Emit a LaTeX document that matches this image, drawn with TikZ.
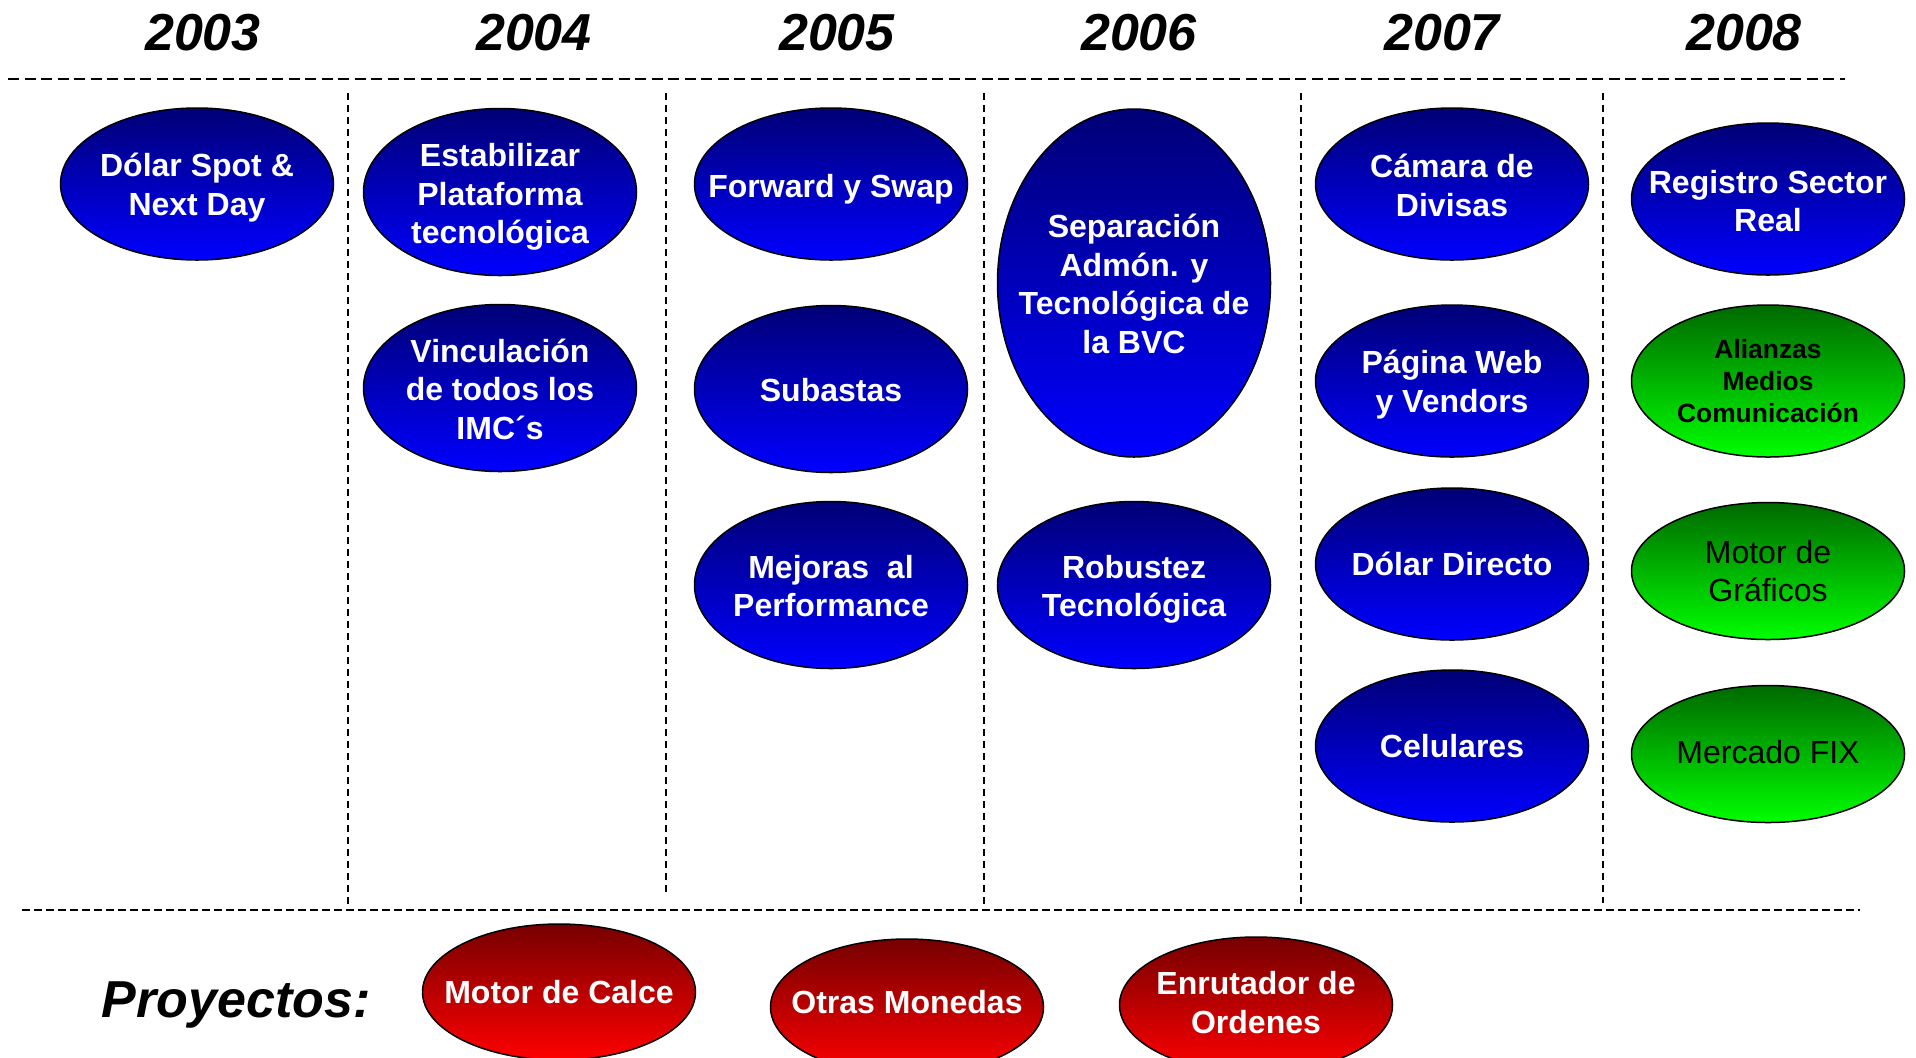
\documentclass[tikz,border=0pt]{standalone}
\usepackage{fontspec}
\setmainfont{Liberation Sans}
\usetikzlibrary{shapes.geometric}
\definecolor{azuloscuro}{RGB}{0,0,118}
\definecolor{azulclaro}{RGB}{0,0,255}
\definecolor{verdeoscuro}{RGB}{0,105,0}
\definecolor{verdeclaro}{RGB}{0,255,0}
\definecolor{rojooscuro}{RGB}{118,0,0}
\definecolor{rojoclaro}{RGB}{255,0,0}
\tikzset{
  anio/.style={anchor=base, font=\bfseries\itshape\fontsize{26}{30}\selectfont},
  hito/.style={ellipse, draw=black, line width=0.75pt, inner sep=0pt,
    minimum width=136.5pt, minimum height=76pt,
    top color=azuloscuro, bottom color=azulclaro},
  hitoalto/.style={hito, minimum height=83.5pt},
  verde/.style={hito, top color=verdeoscuro, bottom color=verdeclaro},
  rojo/.style={hito, minimum height=68pt, top color=rojooscuro, bottom color=rojoclaro},
  blanco/.style={text=white, align=center, font=\bfseries\fontsize{16}{19.3}\selectfont},
  negro/.style={text=black, align=center, font=\fontsize{16}{19.3}\selectfont},
  negrito/.style={text=black, align=center, font=\bfseries\fontsize{13.2}{16}\selectfont},
  seph/.style={line width=1pt, dash pattern=on 5.5pt off 2.75pt},
  sepv/.style={line width=0.9pt, dash pattern=on 3.6pt off 2.4pt}
}
\begin{document}
\begin{tikzpicture}[x=0.5pt,y=-0.5pt]
\useasboundingbox (0,0) rectangle (1916,1057);
% years
\node[anio] (a2003) at (203,50) {2003};
\node[anio] (a2004) at (534,50) {2004};
\node[anio] (a2005) at (837,50) {2005};
\node[anio] (a2006) at (1139,50) {2006};
\node[anio] (a2007) at (1442,50) {2007};
\node[anio] (a2008) at (1744,50) {2008};
% dashed lines
\draw[seph] (8,79) -- (1845,79);
\draw[seph, dash pattern=on 4pt off 2pt] (22,910) -- (1860,910);
\foreach \x/\y in {348/910,666/895,984/910,1301/910,1603/903}
  \draw[sepv] (\x,93) -- (\x,\y);
% 2003
\node[hito, label={[blanco,yshift=-1.8pt]center:{Dólar Spot \&\\Next Day}}] (spot) at (197,184) {};
% 2004
\node[hitoalto, label={[blanco,yshift=-2.4pt]center:{Estabilizar\\Plataforma\\tecnológica}}] (plataforma) at (500,192) {};
\node[hitoalto, label={[blanco,yshift=-0.6pt]center:{Vinculación\\de todos los\\IMC´s}}] (imcs) at (500,388) {};
% 2005
\node[hito, label={[blanco,yshift=-2.4pt]center:{Forward y Swap}}] (forward) at (831,184) {};
\node[hitoalto, label={[blanco,yshift=-0.6pt]center:{Subastas}}] (subastas) at (831,389) {};
\node[hitoalto, label={[blanco,yshift=-0.6pt]center:{Mejoras\ \ al\\Performance}}] (mejoras) at (831,585) {};
% 2006
\node[hito, minimum height=174pt, label={[blanco,yshift=-0.5pt]center:{Separación\\Admón. y\\Tecnológica de\\la BVC}}] (separacion) at (1134,283) {};
\node[hitoalto, label={[blanco,yshift=-2.1pt]center:{Robustez\\Tecnológica}}] (robustez) at (1134,585) {};
% 2007
\node[hito, label={[blanco,yshift=-0.6pt]center:{Cámara de\\Divisas}}] (camara) at (1452,184) {};
\node[hito, label={[blanco,yshift=-1.8pt]center:{Página Web\\y Vendors}}] (web) at (1452,381) {};
\node[hito, label={[blanco]center:{Dólar Directo}}] (directo) at (1452,564) {};
\node[hito, label={[blanco]center:{Celulares}}] (celulares) at (1452,746) {};
% 2008
\node[hito, label={[blanco,yshift=-1pt]center:{Registro Sector\\Real}}] (registro) at (1768,199) {};
\node[verde, label={[negrito]center:{Alianzas\\Medios\\Comunicación}}] (alianzas) at (1768,381) {};
\node[verde, minimum height=68.5pt, label={[negro]center:{Motor de\\Gráficos}}] (graficos) at (1768,571) {};
\node[verde, minimum height=68.5pt, label={[negro,yshift=1pt]center:{Mercado FIX}}] (fix) at (1768,754) {};
% projects
\node[anio] (proyectos) at (236,1017) {Proyectos:};
\node[rojo, label={[blanco]center:{Motor de Calce}}] (calce) at (559,992) {};
\node[rojo, label={[blanco,yshift=2.4pt]center:{Otras Monedas}}] (monedas) at (907,1007) {};
\node[rojo, label={[blanco,yshift=1.2pt]center:{Enrutador de\\Ordenes}}] (enrutador) at (1256,1005) {};
\end{tikzpicture}
\end{document}
